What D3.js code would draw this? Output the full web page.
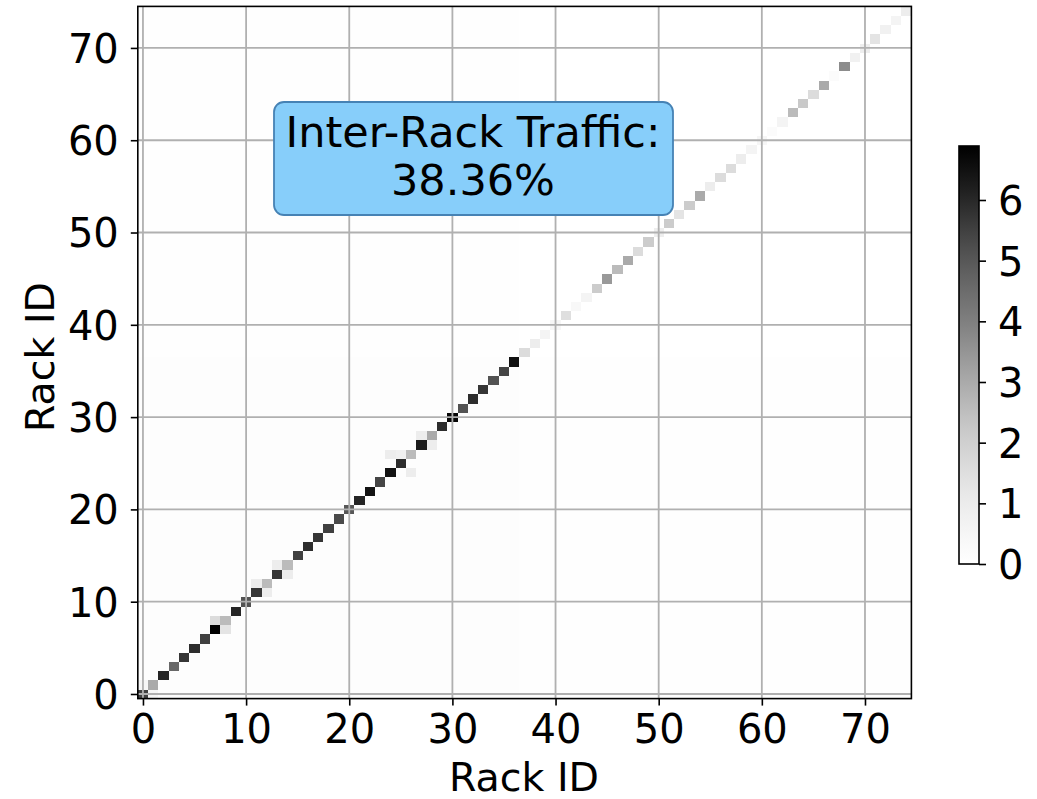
<!DOCTYPE html>
<html>
<head>
<meta charset="utf-8">
<script src="https://cdn.jsdelivr.net/npm/d3@7"></script>
<style>
  body { margin: 0; background: #fff; }
  text { font-family: "DejaVu Sans", sans-serif; fill: #000; }
</style>
</head>
<body>
<div id="chart"></div>
<script>
// rack ids 0..74 on both axes
const rackCount = 75;

// diagonal (intra-rack) traffic
const diagonal = [
  5.5, 3.0, 6.05, 4.6, 5.7, 5.9, 5.5, 6.89, 2.6, 6.05,
  5.1, 5.7, 2.6, 5.7, 2.6, 5.5, 5.9, 5.7, 5.5, 5.3,
  5.0, 6.05, 6.45, 5.4, 6.45, 5.9, 2.6, 6.25, 3.0, 5.9,
  6.7, 5.1, 5.9, 5.7, 5.1, 5.4, 6.5, 1.6, 0.95, 0.6,
  0.5, 1.5, 0.4, 0.6, 2.1, 3.4, 2.6, 3.0, 1.6, 2.1,
  0.9, 2.1, 1.3, 2.1, 3.0, 0.95, 1.6, 1.6, 0.95, 0.6,
  0.5, 0.2, 0.6, 2.6, 2.2, 1.6, 3.0, 0.2, 3.7, 0.75,
  0.9, 1.3, 0.75, 0.6, 0.95
];

// visible off-diagonal cells [x, y, value]
const offDiagonal = [
  [8, 7, 1.3], [7, 8, 1.6], [12, 11, 0.95], [11, 12, 0.95],
  [14, 13, 0.95], [13, 14, 0.95], [26, 24, 0.95], [24, 26, 0.95],
  [25, 26, 0.8], [28, 27, 0.95], [27, 28, 0.95], [1, 0, 0.5], [0, 1, 0.5]
];

// faint background level per block [x0, x1, y0, y1, value]
const blocks = [
  [0, 36, 0, 36, 0.14],
  [37, 74, 0, 36, 0.05],
  [0, 36, 37, 74, 0.05],
  [37, 74, 37, 74, 0.02]
];

const tickValues = [0, 10, 20, 30, 40, 50, 60, 70];
const colorTicks = [0, 1, 2, 3, 4, 5, 6];
const colorMax = 6.89;
const boxLines = ["Inter-Rack Traffic:", "38.36%"];

const W = 1037, H = 799;
const svg = d3.select("#chart").append("svg")
  .attr("width", W).attr("height", H);

const x = d3.scaleLinear().domain([-0.5, rackCount - 0.5]).range([137.8, 911.4]);
const y = d3.scaleLinear().domain([-0.5, rackCount - 0.5]).range([698.6, 6.4]);
const color = d3.scaleSequential(d3.interpolateGreys).domain([0, colorMax]);

// build the matrix
let cells = [];
for (let i = 0; i < rackCount; i++) {
  for (let j = 0; j < rackCount; j++) {
    let v = 0;
    blocks.forEach(b => {
      if (i >= b[0] && i <= b[1] && j >= b[2] && j <= b[3]) v = b[4];
    });
    cells.push({x: i, y: j, v: v});
  }
}
offDiagonal.forEach(d => { cells[d[0] * rackCount + d[1]].v = d[2]; });
diagonal.forEach((v, i) => { cells[i * rackCount + i].v = v; });

svg.append("g")
  .attr("shape-rendering", "crispEdges")
  .selectAll("rect")
  .data(cells)
  .join("rect")
  .attr("x", d => x(d.x - 0.5))
  .attr("y", d => y(d.y + 0.5))
  .attr("width", d => x(d.x + 0.5) - x(d.x - 0.5) + 0.3)
  .attr("height", d => y(d.y - 0.5) - y(d.y + 0.5) + 0.3)
  .attr("fill", d => color(d.v));

// grid over the image
const grid = svg.append("g").attr("stroke", "#b0b0b0").attr("stroke-width", 1.8);
tickValues.forEach(t => {
  grid.append("line").attr("x1", x(t)).attr("x2", x(t)).attr("y1", y(-0.5)).attr("y2", y(74.5));
  grid.append("line").attr("y1", y(t)).attr("y2", y(t)).attr("x1", x(-0.5)).attr("x2", x(74.5));
});

// axes
const xAxis = svg.append("g")
  .attr("transform", "translate(0," + y(-0.5) + ")")
  .call(d3.axisBottom(x).tickValues(tickValues).tickSize(7).tickPadding(9).tickSizeOuter(0));
const yAxis = svg.append("g")
  .attr("transform", "translate(" + x(-0.5) + ",0)")
  .call(d3.axisLeft(y).tickValues(tickValues).tickSize(7).tickPadding(12).tickSizeOuter(0));
[xAxis, yAxis].forEach(a => {
  a.select(".domain").remove();
  a.selectAll(".tick line").attr("stroke", "#000").attr("stroke-width", 1.6);
  a.selectAll(".tick text").style("font-size", "40px").attr("fill", "#000");
});
yAxis.selectAll(".tick text").attr("dy", "0.36em");

svg.append("rect")
  .attr("x", x(-0.5)).attr("y", y(74.5))
  .attr("width", x(74.5) - x(-0.5)).attr("height", y(-0.5) - y(74.5))
  .attr("fill", "none").attr("stroke", "#000").attr("stroke-width", 1.6);

svg.append("text")
  .attr("x", 524).attr("y", 791)
  .attr("text-anchor", "middle")
  .style("font-size", "39.5px")
  .text("Rack ID");
svg.append("text")
  .attr("transform", "translate(54,357) rotate(-90)")
  .attr("text-anchor", "middle")
  .style("font-size", "39.5px")
  .text("Rack ID");

// annotation box
svg.append("rect")
  .attr("x", 274).attr("y", 102).attr("width", 399).attr("height", 113)
  .attr("rx", 10).attr("ry", 10)
  .attr("fill", "#87cefa").attr("stroke", "#4682b4").attr("stroke-width", 1.8);
svg.append("text")
  .attr("x", 473).attr("y", 147)
  .attr("text-anchor", "middle")
  .style("font-size", "43px")
  .selectAll("tspan")
  .data(boxLines)
  .join("tspan")
  .attr("x", 473)
  .attr("dy", (d, i) => i === 0 ? 0 : 48)
  .text(d => d);

// colorbar
const cb = d3.scaleLinear().domain([0, colorMax]).range([564, 146]);
const defs = svg.append("defs");
const grad = defs.append("linearGradient").attr("id", "cbar")
  .attr("x1", 0).attr("x2", 0).attr("y1", 1).attr("y2", 0);
d3.range(0, 1.0001, 0.05).forEach(t => {
  grad.append("stop").attr("offset", t).attr("stop-color", color(t * colorMax));
});
svg.append("rect")
  .attr("x", 959).attr("y", cb(colorMax)).attr("width", 20).attr("height", cb(0) - cb(colorMax))
  .attr("fill", "url(#cbar)").attr("stroke", "#000").attr("stroke-width", 1.6);
const cbAxis = svg.append("g")
  .attr("transform", "translate(979,0)")
  .call(d3.axisRight(cb).tickValues(colorTicks).tickFormat(d3.format("d"))
    .tickSize(7).tickPadding(12).tickSizeOuter(0));
cbAxis.select(".domain").remove();
cbAxis.selectAll(".tick line").attr("stroke", "#000").attr("stroke-width", 1.6);
cbAxis.selectAll(".tick text").style("font-size", "40px").attr("fill", "#000").attr("dy", "0.36em");
</script>
</body>
</html>
